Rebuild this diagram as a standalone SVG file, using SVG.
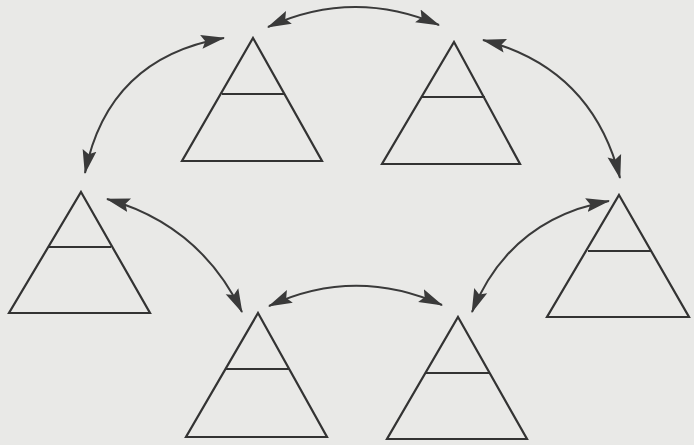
<svg xmlns="http://www.w3.org/2000/svg" width="694" height="445" viewBox="0 0 694 445">
  <defs>
    <marker id="ah" markerUnits="userSpaceOnUse" markerWidth="26" markerHeight="18" viewBox="0 0 26 18" refX="23" refY="9" orient="auto-start-reverse">
      <path d="M0,2 L24,9 L0,16 L4,9 Z" fill="#3a3a3a"/>
    </marker>
  </defs>
  <style>
    .tri { fill: none; stroke: #333; stroke-width: 2.2; stroke-linejoin: miter; }
    .lvl { stroke: #333; stroke-width: 2; }
    .link { fill: none; stroke: #3a3a3a; stroke-width: 2; marker-start: url(#ah); marker-end: url(#ah); }
  </style>
  <rect width="694" height="445" fill="#e9e9e7"/>

  <g id="connectors">
    <path class="link" d="M268,27 Q353,-12 439,25"/>
    <path class="link" d="M85,173 Q108,58 224,38"/>
    <path class="link" d="M483,40 Q592,68 620,178"/>
    <path class="link" d="M107,199 Q200,225 242,312"/>
    <path class="link" d="M269,306 Q355,266 442,305"/>
    <path class="link" d="M472,312 Q510,219 609,201"/>
  </g>

  <g id="node-top-left">
    <polygon class="tri" points="253,38 322,161 182,161"/>
    <line class="lvl" x1="222" y1="94" x2="285" y2="94"/>
  </g>
  <g id="node-top-right">
    <polygon class="tri" points="454,42 520,164 382,164"/>
    <line class="lvl" x1="422" y1="97" x2="485" y2="97"/>
  </g>
  <g id="node-left">
    <polygon class="tri" points="81,192 150,313 9,313"/>
    <line class="lvl" x1="49" y1="247" x2="111" y2="247"/>
  </g>
  <g id="node-right">
    <polygon class="tri" points="619,195 689,317 547,317"/>
    <line class="lvl" x1="588" y1="251" x2="652" y2="251"/>
  </g>
  <g id="node-bottom-left">
    <polygon class="tri" points="258,313 327,437 186,437"/>
    <line class="lvl" x1="226" y1="369" x2="289" y2="369"/>
  </g>
  <g id="node-bottom-right">
    <polygon class="tri" points="458,317 527,439 387,439"/>
    <line class="lvl" x1="426" y1="373" x2="489" y2="373"/>
  </g>
</svg>
